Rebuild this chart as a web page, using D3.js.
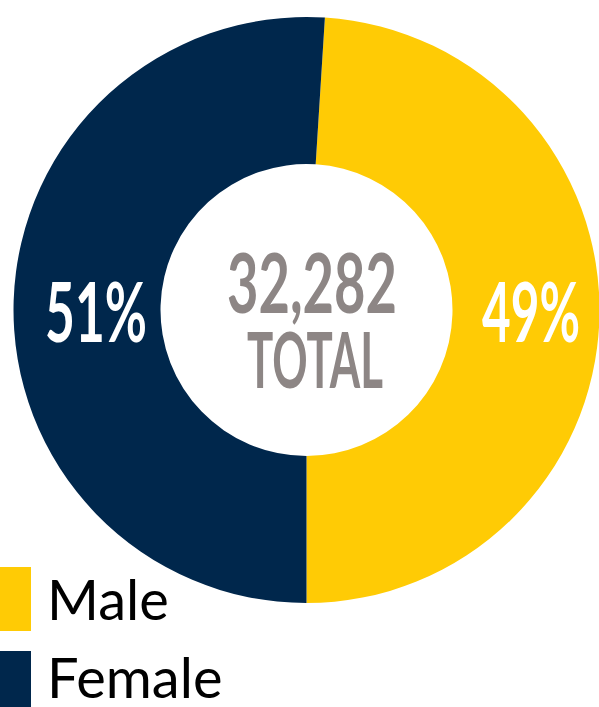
<!DOCTYPE html>
<meta charset="utf-8">
<head>
<style>
  body { margin: 0; background: #fff; }
  svg { display: block; }
  .big { font-family: Lato, sans-serif; font-weight: bold; }
  .legend text { font-family: Lato, sans-serif; font-size: 56px; fill: #000; }
</style>
</head>
<body>
<script src="https://d3js.org/d3.v7.min.js"></script>
<script>
// data
var categories = ["Male", "Female"];
var shares = [49, 51];
var labels = ["49%", "51%"];
var total = "32,282";
var colors = ["#FFCB05", "#00274C"];

var width = 599, height = 707;
var cx = 306.5, cy = 310, outer = 293, inner = 146;

var svg = d3.select("body").append("svg")
    .attr("width", width)
    .attr("height", height);

var g = svg.append("g").attr("transform", "translate(" + cx + "," + cy + ")");

// male ends at the bottom, so start it 49% back from pi
var pie = d3.pie().sort(null)
    .startAngle(Math.PI - shares[0] / 100 * 2 * Math.PI)
    .endAngle(3 * Math.PI - shares[0] / 100 * 2 * Math.PI);

var arc = d3.arc().innerRadius(inner).outerRadius(outer);

var arcs = pie(shares);

g.selectAll("path")
    .data(arcs)
    .enter().append("path")
    .attr("d", arc)
    .attr("fill", function(d, i) { return colors[i]; });

// percent labels
var labelPos = [[531 - cx, 342 - cy, 98], [96 - cx, 342 - cy, 102]];
g.selectAll(".pct")
    .data(labels)
    .enter().append("text")
    .attr("class", "big pct")
    .attr("x", function(d, i) { return labelPos[i][0]; })
    .attr("y", function(d, i) { return labelPos[i][1]; })
    .attr("text-anchor", "middle")
    .attr("font-size", 82)
    .attr("fill", "#fff")
    .attr("textLength", function(d, i) { return labelPos[i][2]; })
    .attr("lengthAdjust", "spacingAndGlyphs")
    .text(function(d) { return d; });

// center total
g.append("text")
    .attr("class", "big")
    .attr("x", 312 - cx).attr("y", 313 - cy)
    .attr("text-anchor", "middle")
    .attr("font-size", 82)
    .attr("fill", "#8d8685")
    .attr("textLength", 170)
    .attr("lengthAdjust", "spacingAndGlyphs")
    .text(total);

g.append("text")
    .attr("class", "big")
    .attr("x", 315 - cx).attr("y", 388 - cy)
    .attr("text-anchor", "middle")
    .attr("font-size", 76)
    .attr("fill", "#8d8685")
    .attr("textLength", 136)
    .attr("lengthAdjust", "spacingAndGlyphs")
    .text("TOTAL");

// legend
var legend = svg.append("g").attr("class", "legend");
var item = legend.selectAll("g")
    .data(categories)
    .enter().append("g")
    .attr("transform", function(d, i) { return "translate(0," + (567 + i * 84) + ")"; });

item.append("rect")
    .attr("width", 31)
    .attr("height", 64)
    .attr("fill", function(d, i) { return colors[i]; });

item.append("text")
    .attr("x", 47)
    .attr("y", function(d, i) { return i === 0 ? 53 : 47; })
    .text(function(d) { return d; });
</script>
</body>
